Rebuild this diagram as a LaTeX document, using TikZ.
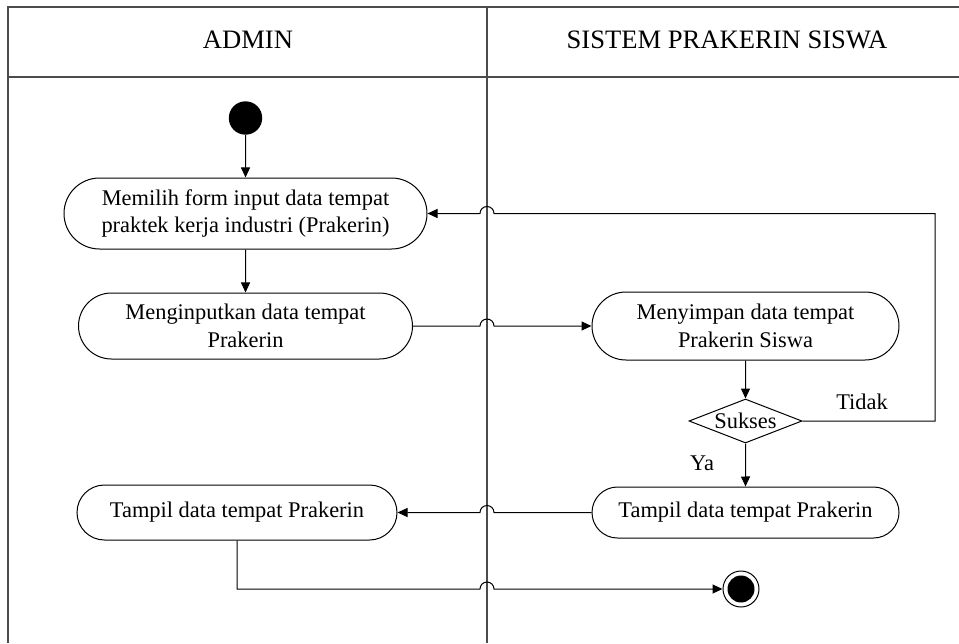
\documentclass[tikz,border=0pt]{standalone}
\usepackage{fontspec}
\setmainfont{Liberation Serif}
\usetikzlibrary{arrows.meta,positioning,shapes.geometric,shapes.misc}

\begin{document}
\begin{tikzpicture}[
      x=0.5pt,y=-0.5pt,
      lane/.style={draw=black!70,line width=0.6pt},
      head/.style={font=\fontsize{13.3}{16}\selectfont},
      act/.style={draw,rounded rectangle,line width=0.5pt,inner sep=0pt,align=center,font=\fontsize{11.2}{13.7}\selectfont},
      dec/.style={draw,diamond,aspect=2.5,inner sep=0pt,minimum width=56.5pt,minimum height=22pt,line width=0.5pt,font=\fontsize{11.2}{13.7}\selectfont},
      lbl/.style={font=\fontsize{11.2}{13.7}\selectfont},
      arr/.style={-{Triangle[length=5pt,width=4.5pt]},line width=0.5pt},
      hop/.style={line width=0.5pt}
    ]
    \useasboundingbox (0,0) rectangle (959,643);
    \draw[lane] (959,7) -- (8,7) -- (8,643);
    \draw[lane] (8,77) -- (959,77);
    \draw[lane] (487,7) -- (487,643);
    \node[head] (admin) at (248,40) {ADMIN};
    \node[head] (sistem) at (727,40) {SISTEM PRAKERIN SISWA};

    \node[circle,fill=black,minimum size=16.7pt,inner sep=0pt] (start) at (245.5,118) {};
    \node[act,minimum width=181.5pt,minimum height=35.5pt] (pilih) at (245.5,213.5) {Memilih form input data tempat\\praktek kerja industri (Prakerin)};
    \node[act,minimum width=167pt,minimum height=33pt] (input) at (245.5,326) {Menginputkan data tempat\\Prakerin};
    \node[act,minimum width=153.5pt,minimum height=34pt] (simpan) at (745.5,326) {Menyimpan data tempat\\Prakerin Siswa};
    \node[dec] (sukses) at (745.5,421) {Sukses};
    \node[act,minimum width=153.5pt,minimum height=25.5pt] (tampilS) at (745.5,512.5) {Tampil data tempat Prakerin};
    \node[act,minimum width=160pt,minimum height=27.5pt] (tampilA) at (237,512.5) {Tampil data tempat Prakerin};
    \node[circle,draw,line width=0.5pt,minimum size=18pt,inner sep=0pt] (finish) at (741,589) {};
    \fill (finish.center) circle (6.75pt);
    \node[lbl] (tidak) at (862,402) {Tidak};
    \node[lbl] (ya) at (702,463) {Ya};

    \coordinate (hopA) at (487,213.5);
    \coordinate (hopB) at (487,326);
    \coordinate (hopC) at (487,512.5);
    \coordinate (hopD) at (487,589);
    \coordinate (turn) at (935,213.5);
    \coordinate (corner) at (237,589);

    \draw[arr] (start) -- (pilih);
    \draw[arr] (pilih) -- (input);
    \draw[arr] (input.east) -- ([xshift=-3.5pt]hopB) arc[start angle=180,end angle=0,radius=3.5pt] -- (simpan.west);
    \draw[arr] (simpan) -- (sukses);
    \draw[arr] (sukses.east) -| (turn) -- ([xshift=3.5pt]hopA) arc[start angle=0,end angle=180,radius=3.5pt] -- (pilih.east);
    \draw[arr] (sukses) -- (tampilS);
    \draw[arr] (tampilS.west) -- ([xshift=3.5pt]hopC) arc[start angle=0,end angle=180,radius=3.5pt] -- (tampilA.east);
    \draw[arr] (tampilA.south) -- (corner) -- ([xshift=-3.5pt]hopD) arc[start angle=180,end angle=0,radius=3.5pt] -- (finish.west);
  \end{tikzpicture}
\end{document}
